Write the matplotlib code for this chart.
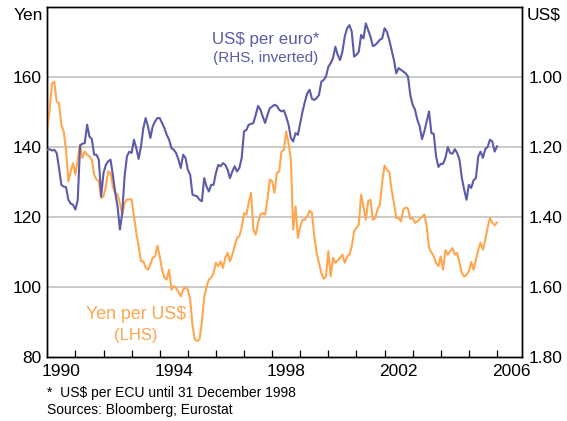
import numpy as np
import matplotlib
matplotlib.use("Agg")
import matplotlib.pyplot as plt
from matplotlib.ticker import FixedLocator, NullFormatter

plt.rcParams["font.family"] = ["Liberation Sans", "DejaVu Sans"]

# --- data: month-end, Jan 1990 onwards ---
START_YEAR = 1990

yen_per_usd = [
    145, 150.7, 158.2, 158.7, 153, 152.6, 146.4, 144.5, 139.2, 130.2, 133, 135.4,
    132.1, 136.4, 140.7, 136.9, 138.7, 137.8, 137.3, 136.4, 132.1, 130.7, 130.2, 125.4,
    125.9, 128.7, 133, 132.6, 128.7, 126.9, 126.5, 124, 120.7, 124, 125, 125,
    125, 120.2, 115.4, 111.6, 107.3, 107.3, 105.5, 104.9, 106.4, 108.3, 108.7, 111.8,
    108.7, 104.9, 102.6, 102.1, 104.9, 99.2, 100.2, 99.7, 98.5, 97.3, 99.2, 99.9,
    99.2, 96.4, 89, 84.9, 84.5, 85, 90, 97, 100, 102.1, 102.6, 104,
    106.9, 105.9, 107.3, 105.4, 108.3, 109.7, 107.3, 109.2, 111.6, 114, 114.5, 116.9,
    121.1, 120.7, 124, 126.9, 116.4, 114.9, 118.3, 120.7, 121.1, 120.7, 125, 130.7,
    130.2, 126.9, 132.6, 133, 138.7, 139.2, 144.5, 141.1, 136.4, 116.4, 123, 114,
    117.3, 119.2, 119.2, 120.2, 121.8, 121.1, 114.5, 109.7, 106.9, 104, 102.3, 103,
    110.2, 103, 108.3, 106.9, 107.5, 108.3, 109.2, 106.9, 108.7, 109.2, 111.6, 115.9,
    116.9, 117.8, 126.4, 123, 119.2, 124.5, 124.9, 119.2, 119.7, 122.1, 123.5, 130,
    134.7, 133.5, 132.9, 127.8, 124, 119.7, 119.7, 118.7, 122.1, 122.7, 122.4, 119.4,
    119.7, 118.3, 118.7, 119.4, 120, 120.7, 117.3, 111.1, 109.9, 108.7, 106.9, 105.9,
    108.7, 104.9, 110.5, 109.2, 110.2, 111.1, 109.2, 109.7, 106.9, 104, 102.9, 103.5,
    104.5, 107.1, 104.9, 107.8, 110.6, 112.6, 110.6, 113.5, 116.9, 119.7, 118.3, 117.6, 118.4,
]

usd_per_euro = [
    1.208, 1.206, 1.21, 1.208, 1.217, 1.26, 1.308, 1.313, 1.315, 1.351, 1.362, 1.365,
    1.379, 1.351, 1.196, 1.19, 1.189, 1.136, 1.17, 1.177, 1.222, 1.222, 1.236, 1.341,
    1.274, 1.251, 1.241, 1.236, 1.28, 1.331, 1.37, 1.436, 1.389, 1.284, 1.227, 1.213,
    1.217, 1.179, 1.203, 1.234, 1.198, 1.146, 1.117, 1.141, 1.174, 1.141, 1.127, 1.117,
    1.117, 1.131, 1.146, 1.165, 1.179, 1.203, 1.208, 1.217, 1.236, 1.26, 1.222, 1.231,
    1.265, 1.279, 1.336, 1.339, 1.341, 1.351, 1.355, 1.289, 1.313, 1.327, 1.308, 1.308,
    1.274, 1.251, 1.255, 1.246, 1.251, 1.265, 1.289, 1.27, 1.255, 1.27, 1.26, 1.231,
    1.155, 1.151, 1.136, 1.134, 1.131, 1.108, 1.082, 1.093, 1.113, 1.131, 1.108, 1.089,
    1.084, 1.079, 1.082, 1.093, 1.098, 1.095, 1.113, 1.136, 1.174, 1.184, 1.16, 1.165,
    1.131, 1.098, 1.07, 1.046, 1.036, 1.062, 1.065, 1.06, 1.051, 1.013, 1.008, 0.998,
    0.97, 0.96, 0.945, 0.913, 0.936, 0.951, 0.927, 0.884, 0.86, 0.851, 0.87, 0.941,
    0.936, 0.927, 0.879, 0.889, 0.846, 0.865, 0.884, 0.911, 0.908, 0.901, 0.893, 0.889,
    0.86, 0.87, 0.893, 0.922, 0.951, 0.989, 0.974, 0.979, 0.984, 0.989, 0.998, 1.051,
    1.079, 1.093, 1.122, 1.141, 1.177, 1.155, 1.127, 1.098, 1.16, 1.162, 1.227, 1.257,
    1.248, 1.248, 1.231, 1.2, 1.217, 1.219, 1.206, 1.217, 1.236, 1.289, 1.322, 1.351,
    1.308, 1.317, 1.295, 1.289, 1.227, 1.213, 1.231, 1.206, 1.2, 1.179, 1.184, 1.213, 1.198,
]

year_labels = [1990, 1994, 1998, 2002, 2006]
yen_ticks = [80, 100, 120, 140, 160]
usd_ticks = [1.00, 1.20, 1.40, 1.60, 1.80]

# --- styling ---
BLUE = "#5b5ba9"
ORANGE = "#ffa64f"
GRID = "#bcbcbc"
FS = 12.5

t_yen = START_YEAR + np.arange(len(yen_per_usd)) / 12
t_usd = START_YEAR + np.arange(len(usd_per_euro)) / 12

fig = plt.figure(figsize=(5.67, 4.21), dpi=100)
ax = fig.add_axes([47.3 / 567, 64.3 / 421, 474.4 / 567, 349.4 / 421])
ax2 = ax.twinx()

ax.plot(t_yen, yen_per_usd, color=ORANGE, lw=1.5, zorder=3)
ax2.plot(t_usd, usd_per_euro, color=BLUE, lw=1.5, zorder=3)

ax.set_xlim(1990.0, 2006.88)
ax.set_ylim(80, 180)
ax2.set_ylim(1.80, 0.80)

for v in [100, 120, 140, 160]:
    ax.axhline(v, color=GRID, lw=1.1, zorder=1)

# year labels centred mid-year, ticks on Jan 1
ax.xaxis.set_major_locator(FixedLocator([y + 0.5 for y in year_labels]))
ax.set_xticklabels([str(y) for y in year_labels])
ax.xaxis.set_minor_locator(FixedLocator(np.arange(1991, 2007)))
ax.xaxis.set_minor_formatter(NullFormatter())
ax.tick_params(axis="x", which="major", length=0, pad=5, labelsize=FS)
ax.tick_params(axis="x", which="minor", direction="in", length=5, width=0.9)

ax.set_yticks(yen_ticks)
ax.set_yticklabels([str(v) for v in yen_ticks])
ax.tick_params(axis="y", length=0, pad=4, labelsize=FS)
ax2.set_yticks(usd_ticks)
ax2.set_yticklabels([f"{v:.2f}" for v in usd_ticks])
ax2.tick_params(axis="y", length=0, pad=5, labelsize=FS)

for a in (ax, ax2):
    for s in a.spines.values():
        s.set_linewidth(1.0)
        s.set_color("black")

# units
fig.text(43 / 567, 1 - 15 / 421, "Yen", ha="right", va="center", fontsize=FS)
fig.text(527 / 567, 1 - 15 / 421, "US$", ha="left", va="center", fontsize=FS)

# series labels
ax.text(1997.78, 170.8, "US$ per euro*", color=BLUE, ha="center", va="center", fontsize=12.2)
ax.text(1997.78, 165.6, "(RHS, inverted)", color=BLUE, ha="center", va="center", fontsize=11)
ax.text(1993.15, 92.1, "Yen per US$", color=ORANGE, ha="center", va="center", fontsize=12.8)
ax.text(1993.15, 86.1, "(LHS)", color=ORANGE, ha="center", va="center", fontsize=12)

# notes
fig.text(47 / 567, 1 - 393 / 421, "*  US$ per ECU until 31 December 1998", ha="left", va="center", fontsize=10)
fig.text(47 / 567, 1 - 410 / 421, "Sources: Bloomberg; Eurostat", ha="left", va="center", fontsize=10)

fig.savefig("out.png", dpi=100)
